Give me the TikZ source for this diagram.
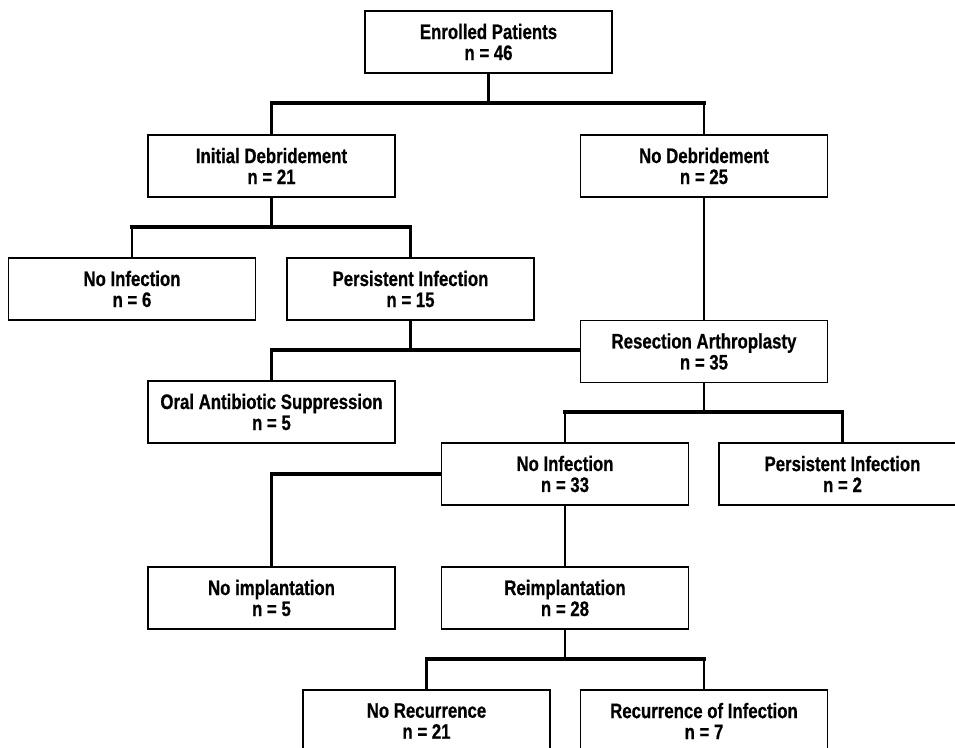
\documentclass[tikz,border=0pt]{standalone}
\usepackage{fontspec}
\setmainfont{Liberation Sans}[FakeStretch=0.8,BoldFeatures={FakeBold=0.6}]
\begin{document}
\begin{tikzpicture}[x=1pt,y=-1pt]  % 1 unite = 1 pixel
\tikzstyle{box}=[draw,line width=1.7pt,fill=white,minimum width=247pt,minimum height=62pt,
  inner sep=0pt,align=center,font=\bfseries\fontsize{21}{21}\selectfont,
  execute at begin node={\rule{0pt}{22pt}}] % texte un peu plus bas
\tikzstyle{vline}=[line width=2.6pt]
\tikzstyle{hline}=[line width=3.4pt,line cap=rect]
\useasboundingbox (0,0) rectangle (955,747);
% les boites
\node[box] (enrolled) at (488.5,42) {Enrolled Patients\\n = 46};
\node[box] (initdeb) at (271.5,166) {Initial Debridement\\n = 21};
\node[box] (nodeb) at (704,166) {No Debridement\\n = 25};
\node[box] (noinfa) at (132,289) {No Infection\\n = 6};
\node[box] (persinfa) at (410.5,289) {Persistent Infection\\n = 15};
\node[box] (resection) at (704,351.5) {Resection Arthroplasty\\n = 35};
\node[box] (oral) at (271.5,412) {Oral Antibiotic Suppression\\n = 5};
\node[box] (noinfb) at (565,474) {No Infection\\n = 33};
\node[box] (persinfb) at (842.5,474) {Persistent Infection\\n = 2};
\node[box] (noimpl) at (271.5,598) {No implantation\\n = 5};
\node[box] (reimpl) at (565,598) {Reimplantation\\n = 28};
\node[box] (norec) at (426.5,721) {No Recurrence\\n = 21};
\node[box] (recinf) at (704,721) {Recurrence of Infection\\n = 7};
% les embranchements
\coordinate (ja) at (488.5,103);
\coordinate (jb) at (271.5,227);
\coordinate (jc) at (410.5,350);
\coordinate (jd) at (704,412);
\coordinate (je) at (565,659);
\draw[vline] (enrolled) -- (ja);
\draw[hline] (ja -| initdeb) -- (ja -| nodeb);
\draw[vline] (ja -| initdeb) -- (initdeb);
\draw[vline] (ja -| nodeb) -- (nodeb);
\draw[vline] (initdeb) -- (jb);
\draw[hline] (jb -| noinfa) -- (jb -| persinfa);
\draw[vline] (jb -| noinfa) -- (noinfa);
\draw[vline] (jb -| persinfa) -- (persinfa);
\draw[vline] (nodeb) -- (resection);
\draw[vline] (persinfa) -- (jc);
\draw[hline] (jc -| oral) -- (jc -| resection.west);
\draw[vline] (jc -| oral) -- (oral);
\draw[vline] (resection) -- (jd);
\draw[hline] (jd -| noinfb) -- (jd -| persinfb);
\draw[vline] (jd -| noinfb) -- (noinfb);
\draw[vline] (jd -| persinfb) -- (persinfb);
\draw[hline] (noinfb.west) -- (noinfb.west -| noimpl);
\draw[vline] (noinfb.west -| noimpl) -- (noimpl);
\draw[vline] (noinfb) -- (reimpl);
\draw[vline] (reimpl) -- (je);
\draw[hline] (je -| norec) -- (je -| recinf);
\draw[vline] (je -| norec) -- (norec);
\draw[vline] (je -| recinf) -- (recinf);
\end{tikzpicture}
\end{document}
